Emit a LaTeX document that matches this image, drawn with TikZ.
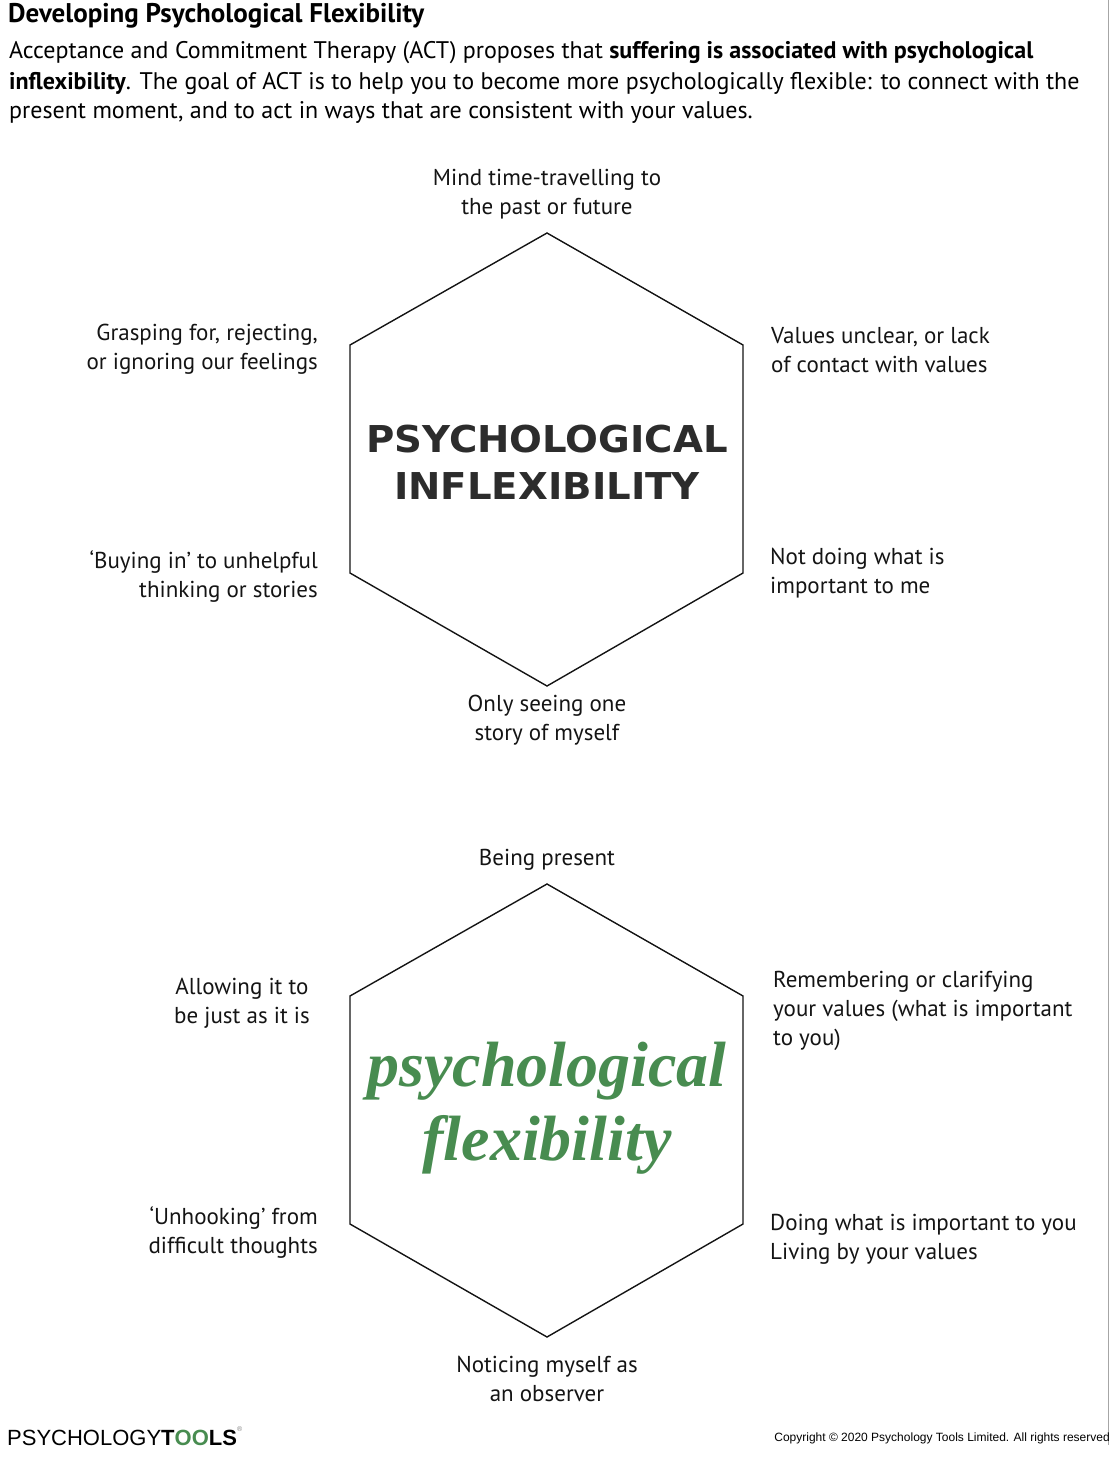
\documentclass[tikz,border=0pt]{standalone}
\usepackage{fontspec}
\setmainfont{PT Sans}
\newfontfamily\heavyfont{DejaVu Sans}
\newfontfamily\scriptf{Liberation Serif}
\newfontfamily\logof{Liberation Sans}
\definecolor{flexgreen}{RGB}{72,140,80}
\definecolor{txt}{RGB}{20,20,20}
\begin{document}
\begin{tikzpicture}[x=1pt,y=-1pt,
  lbl/.style={font=\fontsize{23}{29}\selectfont, text=txt, inner sep=0pt, align=center},
  lblr/.style={lbl, align=right},
  lbll/.style={lbl, align=left},
  hexa/.style={draw=txt, line width=1.4pt, line join=miter}]
\useasboundingbox (0,0) rectangle (1110,1462);
\draw[gray!70, line width=0.8pt] (1108,0) -- (1108,1445);
% header
\node[anchor=west, inner sep=0pt, font=\fontsize{27}{30}\selectfont\bfseries] (title) at (8,16) {Developing Psychological Flexibility};
\node[anchor=west, inner sep=0pt, font=\fontsize{24}{29}\selectfont] (p1) at (9,53) {Acceptance and Commitment Therapy (ACT) proposes that \textbf{suffering is associated with psychological}};
\node[anchor=west, inner sep=0pt, font=\fontsize{24}{29}\selectfont] (p2) at (9,83) {\textbf{inflexibility}. The goal of ACT is to help you to become more psychologically flexible: to connect with the};
\node[anchor=west, inner sep=0pt, font=\fontsize{24}{29}\selectfont] (p3) at (9,112) {present moment, and to act in ways that are consistent with your values.};
% top hexagon
\coordinate (a1) at (547,233); \coordinate (a2) at (743,345); \coordinate (a3) at (743,573);
\coordinate (a4) at (547,686); \coordinate (a5) at (350,573); \coordinate (a6) at (350,345);
\draw[hexa] (a1) -- (a2) -- (a3) -- (a4) -- (a5) -- (a6) -- cycle;
\node[inner sep=0pt, align=center, text=txt!90, font=\heavyfont\bfseries\fontsize{37}{47}\selectfont] (inflex) at (547,462) {\scalebox{1.045}[1]{PSYCHOLOGICAL}\\\scalebox{1.045}[1]{INFLEXIBILITY}};
\node[lbl] (t1) at (547,194) {Mind time-travelling to\\the past or future};
\node[lblr, anchor=east] (t2) at (318,349) {Grasping for, rejecting,\\or ignoring our feelings};
\node[lbll, anchor=west] (t3) at (771,350) {Values unclear, or lack\\of contact with values};
\node[lblr, anchor=east] (t4) at (318,576) {‘Buying in’ to unhelpful\\thinking or stories};
\node[lbll, anchor=west] (t5) at (770,573) {Not doing what is\\important to me};
\node[lbl] (t6) at (547,720) {Only seeing one\\story of myself};
% bottom hexagon
\coordinate (b1) at (547,884); \coordinate (b2) at (743,996); \coordinate (b3) at (743,1224);
\coordinate (b4) at (547,1337); \coordinate (b5) at (350,1224); \coordinate (b6) at (350,996);
\draw[hexa] (b1) -- (b2) -- (b3) -- (b4) -- (b5) -- (b6) -- cycle;
\node[inner sep=0pt, align=center, text=flexgreen, font=\scriptf\itshape\bfseries\fontsize{64}{74}\selectfont] (flex) at (547,1108) {psychological\\flexibility};
\node[lbl] (u1) at (547,860) {Being present};
\node[lbl] (u2) at (242,1003) {Allowing it to\\be just as it is};
\node[lbll, anchor=west] (u3) at (773,1011) {Remembering or clarifying\\your values (what is important\\to you)};
\node[lblr, anchor=east] (u4) at (318,1232) {‘Unhooking’ from\\difficult thoughts};
\node[lbll, anchor=west] (u5) at (770,1239) {Doing what is important to you\\Living by your values};
\node[lbl] (u6) at (547,1379) {Noticing myself as\\an observer};
% footer
\node[anchor=west, inner sep=0pt, font=\logof\fontsize{22}{24}\selectfont] (logo) at (7,1436) {PSYCHOLOGY\textbf{T\textcolor{flexgreen}{OO}LS}\raisebox{1.2ex}{\fontsize{7}{7}\selectfont\textcolor{gray}{®}}};
\node[anchor=east, inner sep=0pt, font=\logof\fontsize{12}{14}\selectfont] (copy) at (1110,1438) {Copyright © 2020 Psychology Tools Limited. All rights reserved};
\end{tikzpicture}
\end{document}
